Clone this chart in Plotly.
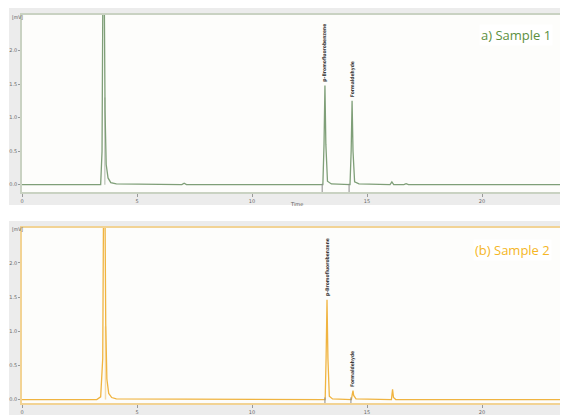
import plotly.graph_objects as go

# ---- data ----
time_1 = [0.0, 3.42, 3.48, 3.52, 3.57, 3.61, 3.66, 3.74, 3.86, 4.10, 6.95, 7.05, 7.15,
          13.08, 13.13, 13.17, 13.21, 13.28, 13.45, 14.26, 14.31, 14.35, 14.39, 14.46, 14.65,
          16.00, 16.08, 16.16, 16.60, 16.70, 16.80, 23.65]
signal_1 = [0.0, 0.0, 0.5, 3.2, 3.2, 1.1, 0.30, 0.10, 0.03, 0.01, 0.0, 0.02, 0.0,
            0.0, 0.6, 1.48, 0.6, 0.05, 0.01, 0.0, 0.5, 1.25, 0.5, 0.04, 0.01,
            0.0, 0.04, 0.0, 0.0, 0.015, 0.0, 0.0]
ghost_t1 = [3.60, 3.60]
ghost_s1 = [0.0, 1.30]

time_2 = [0.0, 3.25, 3.42, 3.51, 3.55, 3.60, 3.64, 3.69, 3.77, 3.90, 4.10,
          13.18, 13.22, 13.26, 13.30, 13.36, 13.50, 14.32, 14.36, 14.39, 14.42, 14.52,
          16.06, 16.11, 16.15, 16.25, 23.65]
signal_2 = [0.0, 0.0, 0.04, 0.6, 3.2, 3.2, 1.1, 0.30, 0.09, 0.03, 0.01,
            0.0, 0.6, 1.46, 0.6, 0.05, 0.01, 0.0, 0.08, 0.13, 0.06, 0.01,
            0.0, 0.15, 0.03, 0.0, 0.0]
ghost_t2 = [3.63, 3.63]
ghost_s2 = [0.0, 1.07]

peak_names = ["p-Bromofluorobenzene", "Formaldehyde"]
peak_t1 = [13.17, 14.35]
peak_h1 = [1.48, 1.25]
peak_start1 = [13.05, 14.22]
peak_t2 = [13.26, 14.39]
peak_h2 = [1.46, 0.13]
peak_start2 = [13.17, 14.30]

y_tickvals = [0, 0.5, 1.0, 1.5, 2.0]
y_ticktext = ["0.0", "0.5", "1.0", "1.5", "2.0"]
y_unit = "[mV]"
y_unit_pos = 2.5
x_tickvals = [0, 5, 10, 15, 20]
x_ticktext = ["0", "5", "10", "15", "20"]

panels = ["a) Sample 1", "(b) Sample 2"]

# ---- styles ----
OFF = 8  # default page margin around the plot div
W, H = 568 - OFF, 418 - OFF

def px(x):
    return (x - OFF) / W

def py(y):
    return 1 - (y - OFF) / H

green_line = "#7f9f78"
green_frame = "#c9d2c2"
green_text = "#5c8f3e"
orange_line = "#f0b440"
orange_frame = "#f2d394"
orange_text = "#f5b626"
panel_bg = "#ececec"
plot_bg = "#fdfdfb"

fig = go.Figure()

fig.add_trace(go.Scatter(x=ghost_t1, y=ghost_s1, mode="lines", xaxis="x", yaxis="y",
                         line=dict(color="#c8cec4", width=1.5), showlegend=False, hoverinfo="skip"))
fig.add_trace(go.Scatter(x=time_1, y=signal_1, mode="lines", xaxis="x", yaxis="y",
                         line=dict(color=green_line, width=1.3), showlegend=False))
fig.add_trace(go.Scatter(x=peak_start1, y=[-0.06] * len(peak_start1), mode="markers", xaxis="x", yaxis="y",
                         marker=dict(symbol="line-ns-open", size=7, color="#8a8a8a",
                                     line=dict(color="#8a8a8a", width=1)),
                         showlegend=False, hoverinfo="skip"))

fig.add_trace(go.Scatter(x=ghost_t2, y=ghost_s2, mode="lines", xaxis="x2", yaxis="y2",
                         line=dict(color="#f6dca8", width=1.5), showlegend=False, hoverinfo="skip"))
fig.add_trace(go.Scatter(x=time_2, y=signal_2, mode="lines", xaxis="x2", yaxis="y2",
                         line=dict(color=orange_line, width=1.3), showlegend=False))
fig.add_trace(go.Scatter(x=peak_start2, y=[-0.03] * len(peak_start2), mode="markers", xaxis="x2", yaxis="y2",
                         marker=dict(symbol="line-ns-open", size=6, color="#8a8a8a",
                                     line=dict(color="#8a8a8a", width=1)),
                         showlegend=False, hoverinfo="skip"))

xdom = [px(22), min(1.0, px(566))]
tickfont = dict(family="DejaVu Sans", size=5, color="#6a6a6a")

def xax(anchor, frame):
    return dict(domain=xdom, anchor=anchor, range=[0, 23.65], tickvals=x_tickvals, ticktext=x_ticktext,
                showgrid=False, zeroline=False, showline=True, linecolor=frame, linewidth=1.5, mirror=True,
                ticks="outside", ticklen=3, tickcolor="#999", tickfont=tickfont, fixedrange=True,
                automargin=False)

def yax(anchor, frame, dom, rng):
    return dict(domain=dom, anchor=anchor, range=rng, tickvals=y_tickvals, ticktext=y_ticktext,
                showgrid=False, zeroline=False, showline=True, linecolor=frame, linewidth=1.5, mirror=True,
                ticks="outside", ticklen=2, tickcolor="#999", tickfont=tickfont, fixedrange=True,
                automargin=False)

top_dom = [py(192), py(15)]
bot_dom = [py(403), py(228)]

fig.update_layout(
    width=W, height=H, margin=dict(l=0, r=0, t=0, b=0, autoexpand=False),
    paper_bgcolor="white", plot_bgcolor=plot_bg,
    xaxis=xax("y", green_frame),
    yaxis=yax("x", green_frame, top_dom, [-0.11, 2.53]),
    xaxis2=xax("y2", orange_frame),
    yaxis2=yax("x2", orange_frame, bot_dom, [-0.05, 2.51]),
    shapes=[
        dict(type="rect", xref="paper", yref="paper", x0=px(9), x1=1, y0=py(205), y1=py(8),
             fillcolor=panel_bg, line=dict(width=0), layer="below"),
        dict(type="rect", xref="paper", yref="paper", x0=px(9), x1=1, y0=py(415), y1=py(221),
             fillcolor=panel_bg, line=dict(width=0), layer="below"),
        dict(type="rect", xref="paper", yref="paper", x0=xdom[0], x1=xdom[1], y0=top_dom[0], y1=top_dom[1],
             fillcolor=plot_bg, line=dict(width=0), layer="below"),
        dict(type="rect", xref="paper", yref="paper", x0=xdom[0], x1=xdom[1], y0=bot_dom[0], y1=bot_dom[1],
             fillcolor=plot_bg, line=dict(width=0), layer="below"),
    ],
)

annotations = []
label_font = dict(family="DejaVu Sans Condensed", size=5, color="#3a3a3a")
for name, t, h in zip(peak_names, peak_t1, peak_h1):
    annotations.append(dict(x=t, y=h + 0.04, xref="x", yref="y", text="<b>" + name + "</b>", textangle=-90,
                             showarrow=False, xanchor="center", yanchor="bottom", font=label_font,
                             borderpad=0))
for name, t, h in zip(peak_names, peak_t2, peak_h2):
    annotations.append(dict(x=t, y=h + 0.04, xref="x2", yref="y2", text="<b>" + name + "</b>", textangle=-90,
                             showarrow=False, xanchor="center", yanchor="bottom", font=label_font,
                             borderpad=0))
for yr in ["y", "y2"]:
    annotations.append(dict(x=px(11), y=y_unit_pos, xref="paper", yref=yr, text=y_unit, showarrow=False,
                            xanchor="left", yanchor="middle", borderpad=0,
                            font=dict(family="DejaVu Sans Condensed", size=5, color="#555")))
annotations.append(dict(x=px(296), y=py(204), xref="paper", yref="paper", text="Time", showarrow=False,
                        font=dict(family="DejaVu Sans", size=5, color="#555")))
annotations.append(dict(x=px(553), y=py(35), xref="paper", yref="paper", text=panels[0], showarrow=False,
                        xanchor="right", yanchor="middle", bgcolor="white",
                        font=dict(family="Open Sans", size=13, color=green_text)))
annotations.append(dict(x=px(552), y=py(250), xref="paper", yref="paper", text=panels[1], showarrow=False,
                        xanchor="right", yanchor="middle", bgcolor="white",
                        font=dict(family="Open Sans", size=13, color=orange_text)))
fig.update_layout(annotations=annotations)

fig.write_html("out.html")
